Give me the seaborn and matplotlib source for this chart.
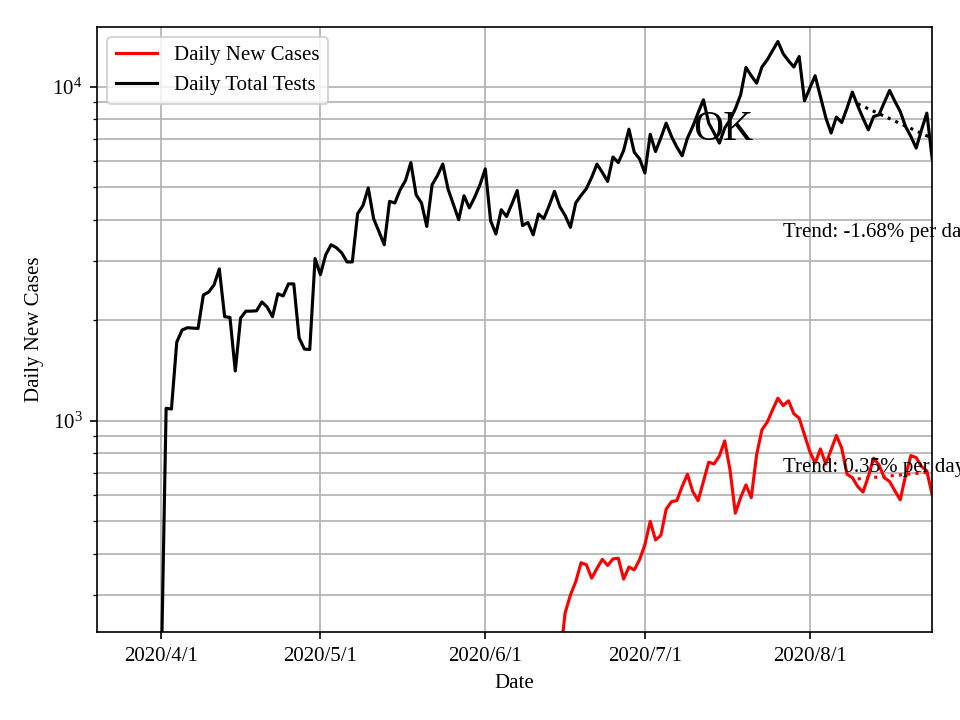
import pandas as pd
import numpy as np
import matplotlib
matplotlib.use('Agg')
import matplotlib.pyplot as plt
import matplotlib.dates as mdates
import seaborn as sns

plt.rcParams['font.family'] = ['Liberation Serif', 'DejaVu Serif']
plt.rcParams['mathtext.fontset'] = 'stix'

# daily total tests, one value per day from 2020-04-01
tests_start = '2020-04-01'
tests = [
    150, 1090, 1085, 1720, 1870, 1900, 1895, 1890, 2380, 2430,
    2550, 2850, 2050, 2040, 1410, 2030, 2130, 2130, 2135, 2270,
    2190, 2050, 2400, 2365, 2570, 2570, 1770, 1640, 1635, 3060,
    2740, 3140, 3365, 3300, 3185, 2990, 2990, 4170, 4410, 4980,
    4030, 3690, 3365, 4540, 4490, 4920, 5240, 5930, 4750, 4490,
    3820, 5090, 5420, 5870, 4940, 4440, 4000, 4720, 4340, 4670,
    5090, 5680, 3970, 3625, 4285, 4090, 4460, 4890, 3840, 3925,
    3605, 4160, 4030, 4405, 4865, 4380, 4120, 3795, 4490, 4730,
    4955, 5360, 5870, 5540, 5210, 6165, 5930, 6445, 7465, 6370,
    6085, 5520, 7210, 6400, 7035, 7785, 7100, 6600, 6215, 7020,
    7605, 8356, 9143, 7785, 7280, 6783, 7520, 7960, 8590, 9464,
    11425, 10790, 10255, 11460, 12045, 12820, 13665, 12556, 11960, 11460,
    12320, 9080, 9910, 10790, 9354, 8090, 7270, 8115, 7815, 8635,
    9643, 8773, 8053, 7433, 8145, 8245, 8975, 9748, 9040, 8434,
    7605, 7100, 6555, 7433, 8340, 6100,
]

# daily new cases, one value per day from 2020-06-15
cases_start = '2020-06-15'
cases = [
    190, 266, 301, 330, 376, 371, 338, 362, 385, 369,
    386, 388, 336, 365, 358, 384, 426, 500, 440, 454,
    544, 573, 577, 636, 692, 614, 577, 658, 752, 743,
    785, 871, 713, 529, 590, 643, 589, 791, 940, 991,
    1079, 1169, 1111, 1148, 1050, 1019, 908, 809, 747, 824,
    742, 819, 904, 828, 692, 676, 636, 612, 681, 773,
    738, 676, 658, 617, 580, 686, 787, 776, 730, 708,
    600,
]

# trend lines over the last two weeks
trend_dates = ['2020-08-10', '2020-08-24']
tests_trend = [8890, 7010]
cases_trend = [670, 703]

tests_dates = pd.date_range(tests_start, periods=len(tests))
cases_dates = pd.date_range(cases_start, periods=len(cases))
trend_x = pd.to_datetime(trend_dates)

fig, ax = plt.subplots(figsize=(6.4, 4.8), dpi=150)
fig.subplots_adjust(left=0.101, right=0.971, bottom=0.122, top=0.9625)

sns.lineplot(x=cases_dates, y=cases, color='red', label='Daily New Cases', ax=ax)
sns.lineplot(x=tests_dates, y=tests, color='black', label='Daily Total Tests', ax=ax)
sns.lineplot(x=trend_x, y=tests_trend, color='black', linestyle=':', ax=ax)
sns.lineplot(x=trend_x, y=cases_trend, color='red', linestyle=':', ax=ax)

ax.set_yscale('log')
ax.set_ylim(233, 15100)
ax.set_xlim(pd.Timestamp('2020-03-20'), pd.Timestamp('2020-08-24'))
ax.xaxis.set_major_locator(mdates.MonthLocator())
ax.xaxis.set_major_formatter(mdates.DateFormatter('%Y/%-m/%-d'))
ax.grid(True, which='both', color='#b0b0b0', linewidth=0.8)

ax.text(0.75, 0.813, 'OK', transform=ax.transAxes, ha='center', va='baseline', fontsize=20)
ax.text(pd.Timestamp('2020-07-27'), 3556, 'Trend: -1.68% per day', fontsize=10)
ax.text(pd.Timestamp('2020-07-27'), 703, 'Trend: 0.35% per day', fontsize=10)

ax.set_xlabel('Date')
ax.set_ylabel('Daily New Cases')
ax.legend(loc='upper left')

plt.savefig('out.png')
plt.close()
